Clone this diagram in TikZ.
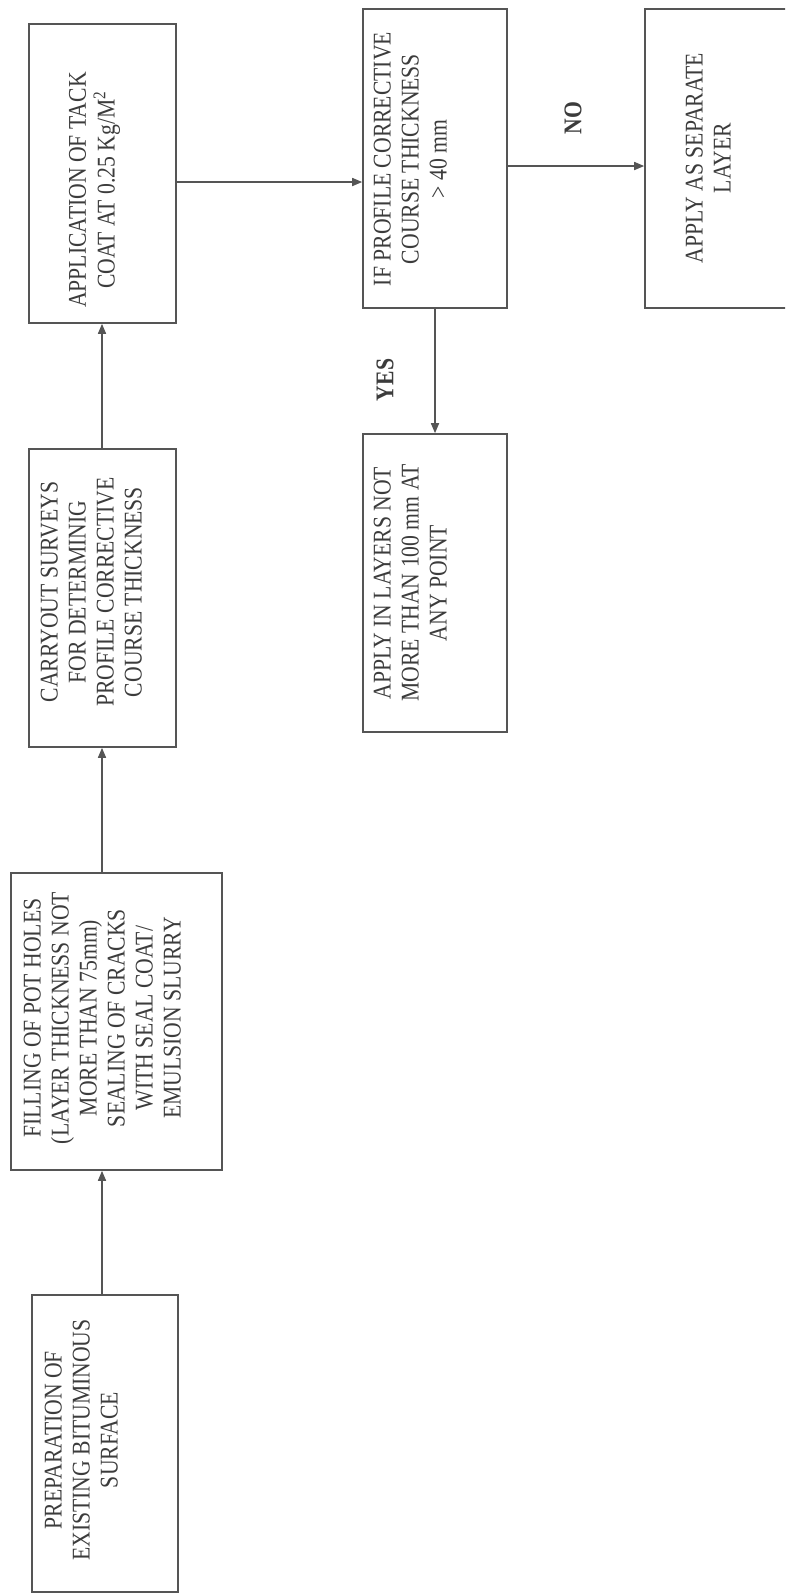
\documentclass[tikz,border=0pt]{standalone}
\usepackage{graphicx}
\usepackage{fontspec}
\setmainfont{Liberation Serif}
\usetikzlibrary{arrows.meta}
\definecolor{ln}{RGB}{85,85,85}
\definecolor{tx}{RGB}{60,60,60}
\tikzset{
  box/.style={draw=ln, line width=1.6pt, rectangle, inner sep=0pt},
  txt/.style={text=tx, inner sep=0pt, font=\fontsize{25.5}{28}\selectfont},
  lbl/.style={text=tx, inner sep=0pt, font=\fontsize{25.5}{28}\selectfont\bfseries},
  arr/.style={draw=ln, line width=1.6pt, -{Triangle[length=10pt,width=8pt]}},
}
\newcommand{\rtext}[1]{\rotatebox{90}{\scalebox{0.85}[1]{\begin{tabular}{@{}c@{}}#1\end{tabular}}}}
\begin{document}
\begin{tikzpicture}[x=1pt,y=-1pt]
\useasboundingbox (0,0) rectangle (785,1593);
\clip (0,0) rectangle (785,1593);
\fill[white] (0,0) rectangle (785,1593);

% boxes
\node[box, minimum width=146pt, minimum height=297pt] (b1) at (105,1443.5) {};
\node[box, minimum width=211pt, minimum height=297pt] (b2) at (116.5,1021.5) {};
\node[box, minimum width=147pt, minimum height=298pt] (b3) at (102.5,598) {};
\node[box, minimum width=147pt, minimum height=299pt] (b4) at (102.5,173.5) {};
\node[box, minimum width=144pt, minimum height=299pt] (b5) at (435,158.5) {};
\node[box, minimum width=144pt, minimum height=298pt] (b6) at (435,583) {};
\node[box, minimum width=145pt, minimum height=299pt] (b7) at (717.5,158.5) {};

% texts
\node[txt] (t1) at (84,1440) {\rtext{PREPARATION OF\\EXISTING BITUMINOUS\\SURFACE}};
\node[txt] (t2) at (105,1018) {\rtext{FILLING OF POT HOLES\\(LAYER THICKNESS NOT\\MORE THAN 75mm)\\SEALING OF CRACKS\\WITH SEAL COAT/\\EMULSION SLURRY}};
\node[txt] (t3) at (94,592) {\rtext{CARRYOUT SURVEYS\\FOR DETERMINIG\\PROFILE CORRECTIVE\\COURSE THICKNESS}};
\node[txt, font=\fontsize{25.5}{26}\selectfont] (t4) at (95,190) {\rtext{APPLICATION OF TACK\\COAT AT 0.25 Kg/M\textsuperscript{2}}};
\node[txt] (t5) at (413,159) {\rtext{IF PROFILE CORRECTIVE\\COURSE THICKNESS\\> 40 mm}};
\node[txt] (t6) at (413,583) {\rtext{APPLY IN LAYERS NOT\\MORE THAN 100 mm AT\\ANY POINT}};
\node[txt] (t7) at (711,158) {\rtext{APPLY AS SEPARATE\\LAYER}};

% labels
\node[lbl] (yes) at (385,380) {\rotatebox{90}{\scalebox{0.85}[1]{YES}}};
\node[lbl] (no) at (573,118) {\rotatebox{90}{\scalebox{0.85}[1]{NO}}};

% connectors
\coordinate (ax) at (102,0);
\coordinate (ay1) at (0,182);
\coordinate (ay2) at (0,166);
\draw[arr] (b1.north -| ax) -- (b2.south -| ax);
\draw[arr] (b2.north -| ax) -- (b3.south -| ax);
\draw[arr] (b3.north -| ax) -- (b4.south -| ax);
\draw[arr] (b4.east |- ay1) -- (b5.west |- ay1);
\draw[arr] (b5.south) -- (b6.north);
\draw[arr] (b5.east |- ay2) -- (b7.west |- ay2);
\end{tikzpicture}
\end{document}
